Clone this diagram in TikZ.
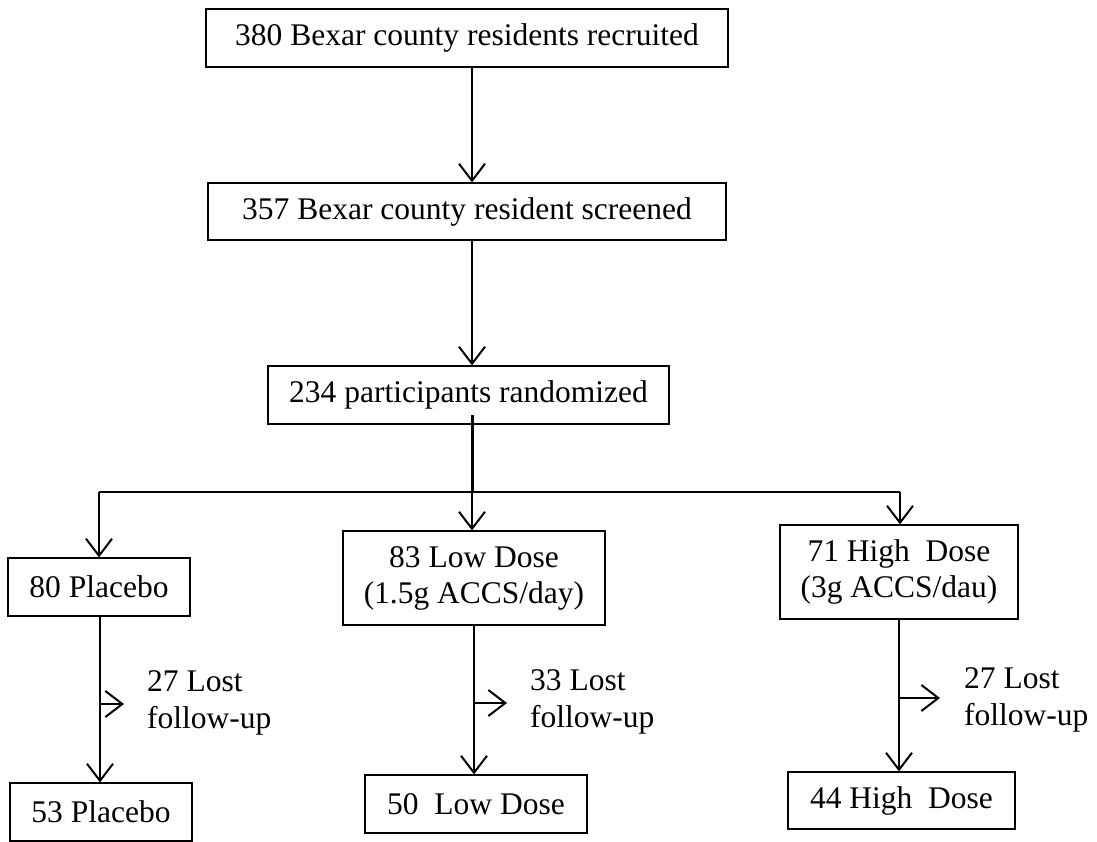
\documentclass[tikz,border=0pt]{standalone}
\usepackage{fontspec}
\setmainfont{Liberation Serif}
\usetikzlibrary{arrows.meta}
\begin{document}
\begin{tikzpicture}[x=1pt,y=-1pt,
  box/.style={draw, line width=1.2pt, inner sep=0pt, align=center,
    font=\fontsize{31.5}{36}\selectfont},
  conn/.style={line width=2pt},
  arr/.style={conn, -{Straight Barb[length=17pt,width=26pt]}},
  lbl/.style={anchor=west, align=left, inner sep=0pt,
    font=\fontsize{31.5}{37}\selectfont}]
\useasboundingbox (0,0) rectangle (1097,842);
% boxes
\node[box, minimum width=522pt, minimum height=58pt] (b1) at (467,38) {380 Bexar county residents recruited};
\node[box, minimum width=518pt, minimum height=57pt] (b2) at (467,211.5) {357 Bexar county resident screened};
\node[box, minimum width=401pt, minimum height=58pt] (b3) at (468.5,395) {234 participants randomized};
\node[box, minimum width=182pt, minimum height=58pt] (p1) at (99,587) {80 Placebo};
\node[box, minimum width=262pt, minimum height=94pt] (l1) at (474,578) {83 Low Dose\\(1.5g ACCS/day)};
\node[box, minimum width=238pt, minimum height=94pt] (h1) at (899,572) {71 High\ \ Dose\\(3g ACCS/dau)};
\node[box, minimum width=182pt, minimum height=58pt] (p2) at (101,812) {53 Placebo};
\node[box, minimum width=222pt, minimum height=58pt] (l2) at (476,804) {50\ \ Low Dose};
\node[box, minimum width=227pt, minimum height=57pt] (h2) at (901.5,800.5) {44 High\ \ Dose};
% labels
\node[lbl] (lp) at (147,703) {27 Lost\\follow-up};
\node[lbl] (ll) at (530,702) {33 Lost\\follow-up};
\node[lbl] (lh) at (964,700) {27 Lost\\follow-up};
% top arrows
\draw[arr] (b1.south -| 472,0) -- (b2.north -| 472,0);
\draw[arr] (b2.south -| 472,0) -- (b3.north -| 472,0);
% split
\coordinate (b3in) at (472,415);
\coordinate (split) at (472,492);
\coordinate (splitL) at (99,492);
\coordinate (splitR) at (900,492);
\draw[conn, line width=3pt] (b3in) -- (split);
\draw[conn] (splitL) -- (splitR);
\draw[arr] (splitL) -- (p1.north -| splitL);
\draw[arr] (split) -- (l1.north -| split);
\draw[arr] (splitR) -- (h1.north -| splitR);
% lower arrows
\coordinate (pj) at (100,704);
\coordinate (pt) at (124,704);
\draw[arr] (p1.south -| pj) -- (p2.north -| pj);
\draw[arr] (pj) -- (pt);
\coordinate (lj) at (474,703);
\coordinate (lt) at (507,703);
\draw[arr] (l1.south -| lj) -- (l2.north -| lj);
\draw[arr] (lj) -- (lt);
\coordinate (hj) at (899,698);
\coordinate (ht) at (940,698);
\draw[arr] (h1.south -| hj) -- (h2.north -| hj);
\draw[arr] (hj) -- (ht);
\end{tikzpicture}
\end{document}
